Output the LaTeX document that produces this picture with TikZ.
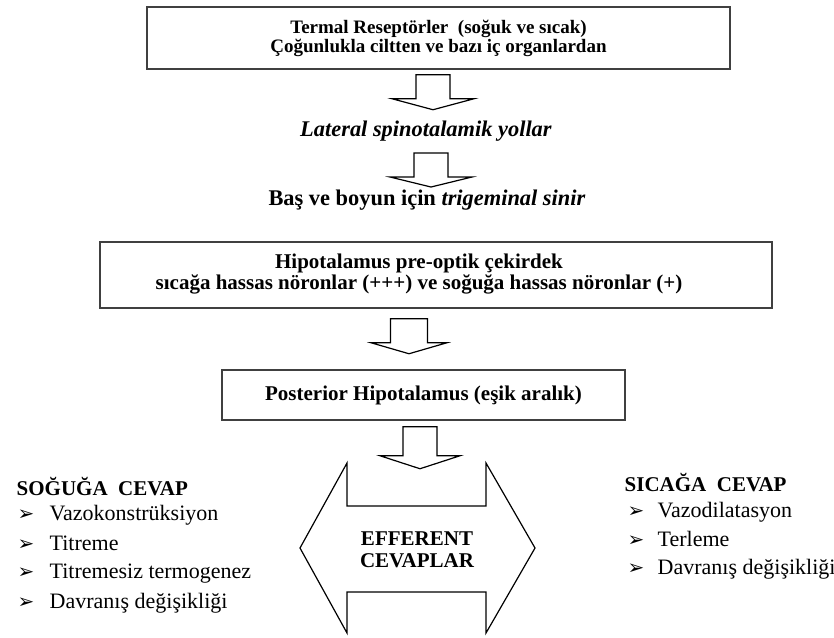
\documentclass[tikz,border=0pt]{standalone}
\usepackage{fontspec}
\setmainfont{Liberation Serif}
\newfontfamily\dejavu{DejaVu Sans}
\newcommand{\arw}{{\dejavu\fontsize{15}{15}\selectfont ➢}}
\usetikzlibrary{positioning}

\begin{document}
\begin{tikzpicture}[x=0.75pt, y=-0.75pt,
  box/.style={draw=black!75, line width=1.1pt, fill=white, inner sep=0pt, align=center},
  blk/.style={draw, line width=0.9pt, fill=white, line join=miter},
  mid/.style={font=\fontsize{16.8}{18}\selectfont\bfseries, anchor=base},
  ttl/.style={font=\fontsize{15.75}{17}\selectfont\bfseries, anchor=base west},
  itm/.style={font=\fontsize{16.5}{18}\selectfont, anchor=base west}]
\useasboundingbox (0,0) rectangle (834,637);

% receptors and afferent pathway
\node[box, minimum width=437.25pt, minimum height=46.5pt,
  font=\fontsize{14.25}{12}\selectfont\bfseries] (rec) at (438.5,38)
  {Termal Reseptörler\ \ (soğuk ve sıcak)\\ Çoğunlukla ciltten ve bazı iç organlardan};
\node[mid] (lat) at (426,136) {\textit{Lateral spinotalamik yollar}};
\node[mid] (trig) at (427,205) {Baş ve boyun için \textit{trigeminal sinir}};

% hypothalamus
\node[box, minimum width=504pt, minimum height=49.5pt] (hipo) at (436,275) {};
\node[font=\fontsize{15.75}{13.5}\selectfont\bfseries, align=center] (hipotxt) at (419,274)
  {Hipotalamus pre-optik çekirdek\\ sıcağa hassas nöronlar (+++) ve soğuğa hassas nöronlar (+)};
\node[box, minimum width=302.25pt, minimum height=37.5pt,
  font=\fontsize{15.75}{17}\selectfont\bfseries] (post) at (423.5,395)
  {Posterior Hipotalamus (eşik aralık)};

% efferent double arrow
\draw[blk] (347,463) -- (347,506) -- (486,506) -- (486,463) -- (535,548) -- (486,633)
  -- (486,592) -- (347,592) -- (347,633) -- (300,548) -- cycle;
\node[font=\fontsize{15.75}{16.5}\selectfont\bfseries, align=center] (eff) at (417,550)
  {EFFERENT\\ CEVAPLAR};

% block arrows
\draw[blk] ([shift={(-22.5,5)}]rec.south) -- ++(0,24) -- ++(-24,0) -- ++(41,11) -- ++(41,-11) -- ++(-24,0) -- ++(0,-24) -- cycle;
\draw[blk] ([shift={(-12,17)}]lat.base) -- ++(0,24) -- ++(-24,0) -- ++(41,10) -- ++(41,-10) -- ++(-24,0) -- ++(0,-24) -- cycle;
\draw[blk] ([shift={(-45.5,10)}]hipo.south) -- ++(0,24) -- ++(-19.5,0) -- ++(38,11) -- ++(38,-11) -- ++(-19.5,0) -- ++(0,-24) -- cycle;
\draw[blk] ([shift={(-20.5,6)}]post.south) -- ++(0,29) -- ++(-23,0) -- ++(40,13) -- ++(40,-13) -- ++(-23,0) -- ++(0,-29) -- cycle;

% responses
\node[ttl] (cold) at (12,495) {SOĞUĞA\ \ CEVAP};
\foreach \t/\y [count=\i] in {Vazokonstrüksiyon/520, Titreme/550, Titremesiz termogenez/578, Davranış değişikliği/608}
  \node[itm] (cold\i) at (13,\y) {\makebox[24pt][l]{\arw}\t};
\node[ttl] (warm) at (620,491) {SICAĞA\ \ CEVAP};
\foreach \t/\y [count=\i] in {Vazodilatasyon/517, Terleme/546, Davranış değişikliği/574}
  \node[itm] (warm\i) at (623,\y) {\makebox[22.5pt][l]{\arw}\t};
\end{tikzpicture}
\end{document}
